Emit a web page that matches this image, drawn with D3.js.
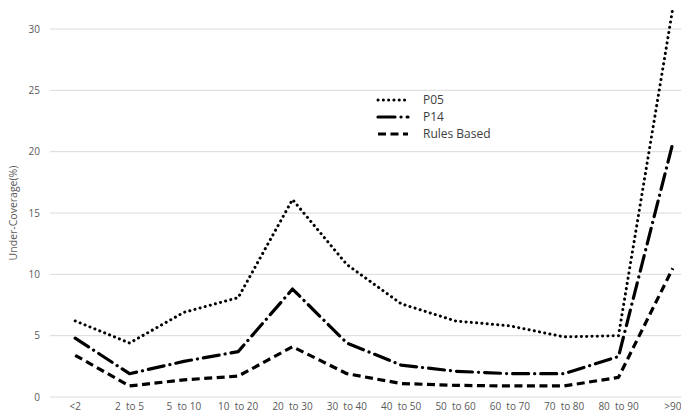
<!DOCTYPE html>
<html><head><meta charset="utf-8">
<script src="https://cdn.jsdelivr.net/npm/d3@7"></script>
<style>body{margin:0;background:#fff;}svg{display:block;font-family:"Open Sans","Noto Sans",sans-serif;}</style>
</head><body><svg id="c" width="681" height="417"></svg>
<script>
const categories = ["<2","2  to 5","5  to 10","10  to 20","20  to 30","30  to 40","40  to 50","50  to 60","60  to 70","70  to 80","80  to 90",">90"];
const p05 = [6.2,4.4,6.9,8.1,16.1,10.8,7.6,6.2,5.8,4.9,5.0,31.7];
const p14 = [4.8,1.9,2.9,3.7,8.8,4.4,2.6,2.1,1.9,1.9,3.3,20.7];
const rulesBased = [3.4,0.9,1.4,1.7,4.1,1.9,1.1,0.95,0.9,0.9,1.6,10.5];
const yTicks = [0,5,10,15,20,25,30];
const seriesNames = ["P05","P14","Rules Based"];

const svg = d3.select("#c");
const x = d3.scaleBand().domain(categories).range([48,700]);
const y = d3.scaleLinear().domain([0,30]).range([397,29]);
const txt = "#595959";

// gridlines
svg.append("g").selectAll("line").data(yTicks).join("line")
  .attr("x1",50).attr("x2",681).attr("y1",d=>y(d)).attr("y2",d=>y(d))
  .attr("stroke","#d9d9d9").attr("stroke-width",1);

// y axis labels
const ya = svg.append("g").attr("transform","translate(40,0)")
  .call(d3.axisLeft(y).tickValues(yTicks).tickSize(0).tickPadding(0));
ya.select(".domain").remove();
ya.selectAll("text").attr("fill",txt).style("font-size","10px").attr("font-family","Open Sans, Noto Sans, sans-serif");

// x axis labels
const xa = svg.append("g").attr("transform","translate(0,403)")
  .call(d3.axisBottom(x).tickSize(0).tickPadding(0));
xa.select(".domain").remove();
xa.selectAll("text").attr("fill",txt).style("font-size","10px").attr("font-family","Open Sans, Noto Sans, sans-serif").style("white-space","pre").attr("xml:space","preserve");

// axis title
svg.append("text").attr("transform","translate(17,213) rotate(-90)")
  .attr("text-anchor","middle").attr("fill",txt).style("font-size","10.5px")
  .text("Under-Coverage(%)");

const styles = [
  {data:p05, dash:"0.1 5.2", cap:"round", w:3},
  {data:p14, dash:"16 6 0.1 6", cap:"round", w:3.2},
  {data:rulesBased, dash:"8 4.5", cap:"butt", w:3.2}
];
const line = d3.line().x((d,i)=>x(categories[i])+x.bandwidth()/2).y(d=>y(d));
styles.forEach(s=>{
  svg.append("path").attr("d",line(s.data)).attr("fill","none")
    .attr("stroke","#000").attr("stroke-width",s.w)
    .attr("stroke-dasharray",s.dash).attr("stroke-linecap",s.cap)
    .attr("stroke-linejoin","round");
});

// legend
const lg = svg.append("g");
const legY = [100,117,134];
seriesNames.forEach((n,i)=>{
  const s = styles[i];
  lg.append("line").attr("x1",378).attr("x2",408).attr("y1",legY[i]).attr("y2",legY[i])
    .attr("stroke","#000").attr("stroke-width",s.w)
    .attr("stroke-dasharray", i===1 ? "17 6 0.1 6" : s.dash).attr("stroke-linecap",s.cap);
  lg.append("text").attr("x",423).attr("y",legY[i]).attr("dy","0.35em")
    .attr("fill","#404040").style("font-size","12px").text(n);
});
</script></body></html>
